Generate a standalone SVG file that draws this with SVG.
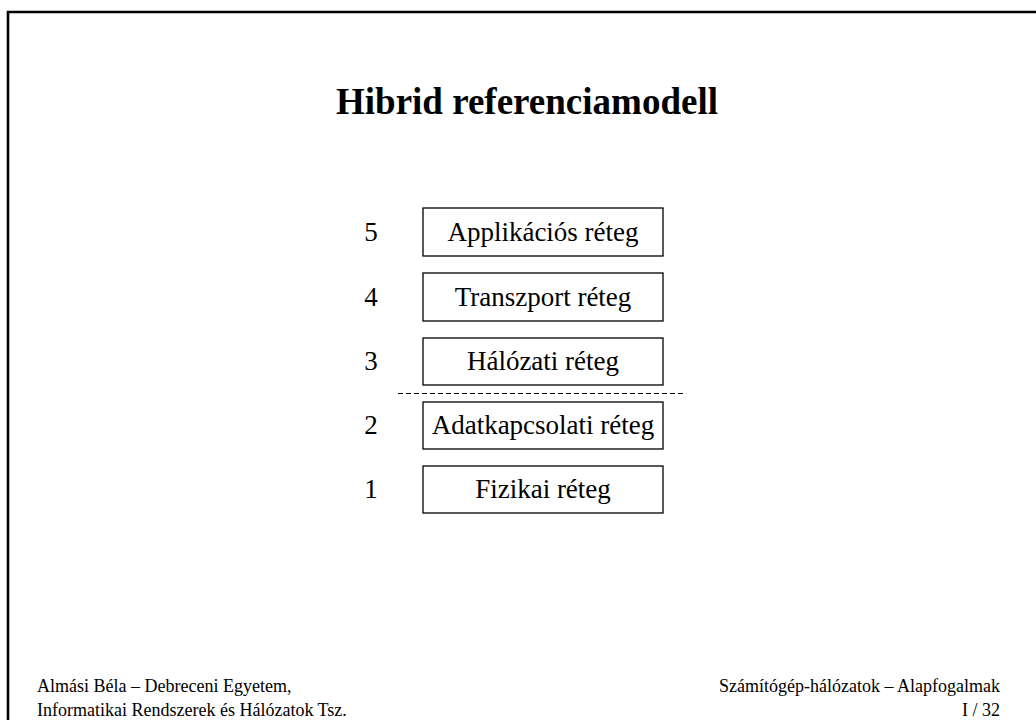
<svg xmlns="http://www.w3.org/2000/svg" width="1036" height="720" viewBox="0 0 1036 720">
  <style>
    text { font-family: "Liberation Serif", "Times New Roman", serif; fill: #000; }
    .title { font-size: 37px; font-weight: bold; }
    .num { font-size: 27px; }
    .label { font-size: 27px; }
    .foot { font-size: 18px; }
    .layer { fill: #fff; stroke: #000; stroke-width: 1.3; }
  </style>
  <rect width="1036" height="720" fill="#fff"/>
  <!-- slide frame (top and left edges) -->
  <path d="M8 720 V12 H1036" fill="none" stroke="#000" stroke-width="2.6"/>

  <text class="title" x="527" y="114" text-anchor="middle">Hibrid referenciamodell</text>

  <g id="layer5">
    <rect class="layer" x="423" y="208" width="240" height="48"/>
    <text class="num" x="371" y="241" text-anchor="middle">5</text>
    <text class="label" x="543" y="241" text-anchor="middle">Applikációs réteg</text>
  </g>
  <g id="layer4">
    <rect class="layer" x="423" y="273" width="240" height="48"/>
    <text class="num" x="371" y="306" text-anchor="middle">4</text>
    <text class="label" x="543" y="306" text-anchor="middle">Transzport réteg</text>
  </g>
  <g id="layer3">
    <rect class="layer" x="423" y="338" width="240" height="47"/>
    <text class="num" x="371" y="370" text-anchor="middle">3</text>
    <text class="label" x="543" y="370" text-anchor="middle">Hálózati réteg</text>
  </g>
  <g id="layer2">
    <rect class="layer" x="423" y="402" width="240" height="47"/>
    <text class="num" x="371" y="434" text-anchor="middle">2</text>
    <text class="label" x="543" y="434" text-anchor="middle">Adatkapcsolati réteg</text>
  </g>
  <g id="layer1">
    <rect class="layer" x="423" y="466" width="240" height="47"/>
    <text class="num" x="371" y="498" text-anchor="middle">1</text>
    <text class="label" x="543" y="498" text-anchor="middle">Fizikai réteg</text>
  </g>

  <g id="connectors">
    <line x1="398" y1="393.5" x2="684" y2="393.5" stroke="#000" stroke-width="1" stroke-dasharray="5,3"/>
  </g>

  <text class="foot" x="37" y="692">Almási Béla – Debreceni Egyetem,</text>
  <text class="foot" x="37" y="716">Informatikai Rendszerek és Hálózatok Tsz.</text>
  <text class="foot" x="1000" y="692" text-anchor="end">Számítógép-hálózatok – Alapfogalmak</text>
  <text class="foot" x="1000" y="716" text-anchor="end">I / 32</text>
</svg>
